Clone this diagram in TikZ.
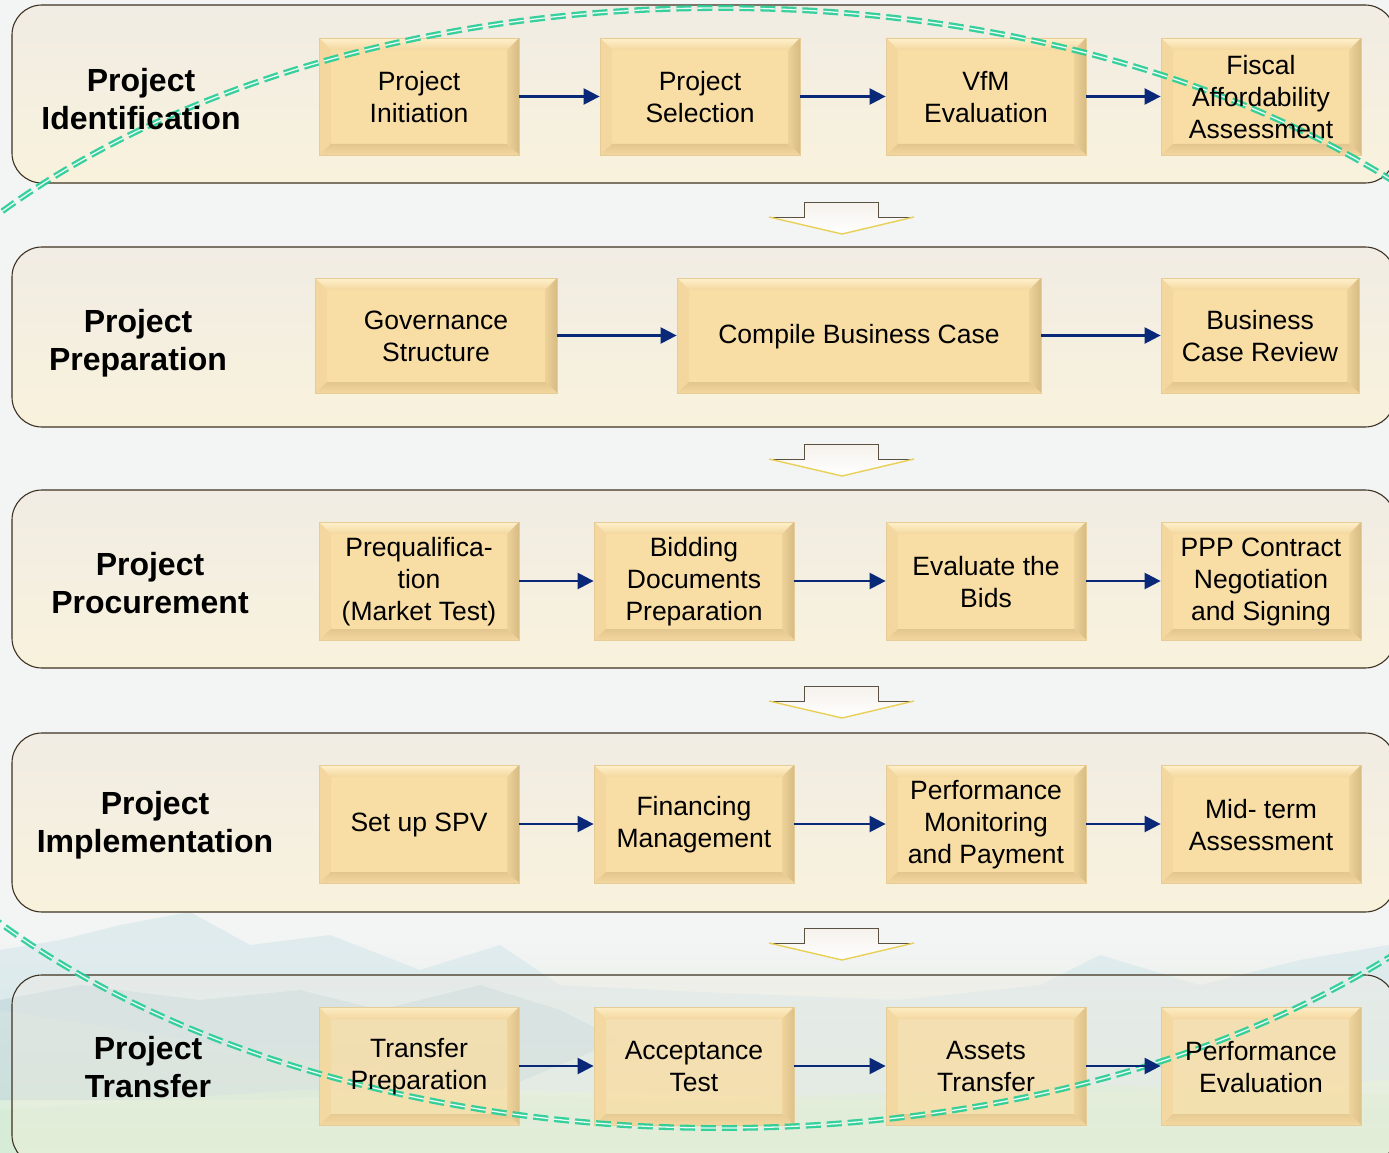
\documentclass[tikz,border=0pt]{standalone}
\usepackage{fontspec}
\setmainfont{Liberation Sans}
\usetikzlibrary{arrows.meta}
\definecolor{bgc}{HTML}{F3F4F4}
\definecolor{bandtop}{HTML}{F1ECE4}
\definecolor{bandbot}{HTML}{F8F2DC}
\definecolor{bandedge}{HTML}{3E3222}
\definecolor{boxface}{HTML}{F8DDA5}
\definecolor{bevlight}{HTML}{FFF1CC}
\definecolor{bevmid}{HTML}{F3D79E}
\definecolor{bevdark}{HTML}{D6BB84}
\definecolor{bevbot}{HTML}{E2C68F}
\definecolor{boxedge}{HTML}{E6CD97}
\definecolor{navy}{HTML}{0A2878}
\definecolor{dashgreen}{RGB}{35,205,150}
\definecolor{skyblue}{HTML}{D8E8EC}
\definecolor{hillblue}{HTML}{BCD4DA}
\definecolor{grass}{HTML}{D6ECD6}
\newcommand{\boxfont}{\fontsize{26.5}{32}\selectfont}
\newcommand{\titlefont}{\fontsize{32}{38}\selectfont\bfseries}
\tikzset{
  band/.style={draw=bandedge, line width=1.1pt, rounded corners=30pt,
    top color=bandtop, bottom color=bandbot, minimum width=1383pt, inner sep=0pt},
  phasetitle/.style={font=\titlefont, align=center, text=black},
  steplabel/.style={font=\boxfont, align=center, text=black, inner sep=0pt, yshift=-1pt},
  stepbox/.style={draw=boxedge, line width=0.8pt, fill=boxface,
    inner sep=0pt, minimum width=200pt, minimum height=117pt,
    path picture={
      \coordinate (pNW) at (path picture bounding box.north west);
      \coordinate (pNE) at (path picture bounding box.north east);
      \coordinate (pSW) at (path picture bounding box.south west);
      \coordinate (pSE) at (path picture bounding box.south east);
      \fill[top color=bevlight, bottom color=bevmid] (pNW) -- (pNE) -- ([shift={(-12pt,-12pt)}]pNE) -- ([shift={(12pt,-12pt)}]pNW) -- cycle;
      \fill[bevmid] (pNW) -- ([shift={(12pt,-12pt)}]pNW) -- ([shift={(12pt,11pt)}]pSW) -- (pSW) -- cycle;
      \fill[left color=bevmid!80!bevdark, right color=bevdark] (pNE) -- ([shift={(-12pt,-12pt)}]pNE) -- ([shift={(-12pt,11pt)}]pSE) -- (pSE) -- cycle;
      \fill[top color=bevbot, bottom color=bevmid] (pSW) -- ([shift={(12pt,11pt)}]pSW) -- ([shift={(-12pt,11pt)}]pSE) -- (pSE) -- cycle;
    }},
  laststep/.style={stepbox, fill opacity=0.8},
  flow/.style={draw=navy, line width=2.4pt, -{Triangle[length=16pt,width=16pt]}},
  blockarrow/.style={top color=bandtop!70!white, bottom color=white},
  blockedge/.style={draw=bandedge!85, line width=1pt},
  blockglow/.style={draw=yellow!55!brown!80, line width=1.4pt},
  orbit/.style={draw=dashgreen, double=white, double distance=1.3pt, line width=2.3pt,
    dash pattern=on 15pt off 6pt, opacity=0.9}
}
\begin{document}
\begin{tikzpicture}[x=1pt,y=-1pt]
\useasboundingbox (0,0) rectangle (1389,1153);
\clip (0,0) rectangle (1389,1153);
% background
\fill[bgc] (0,0) rectangle (1389,1153);
\fill[top color=bgc, bottom color=grass] (0,940) rectangle (1389,1153);
\fill[skyblue, opacity=0.7] (0,1010) -- (0,950) -- (60,940) -- (120,925) -- (190,912) -- (250,945) -- (330,935) -- (420,970) -- (500,945) -- (560,985) -- (700,992) -- (900,1000) -- (1040,985) -- (1100,955) -- (1200,985) -- (1300,960) -- (1389,945) -- (1389,1080) -- (900,1100) -- (500,1090) -- cycle;
\fill[hillblue, opacity=0.55] (0,1100) -- (0,1000) -- (80,985) -- (200,1000) -- (300,990) -- (380,1010) -- (480,985) -- (560,1010) -- (620,1040) -- (500,1090) -- (250,1100) -- cycle;
\fill[grass, opacity=0.7] (0,1110) -- (300,1090) -- (700,1100) -- (1100,1085) -- (1389,1095) -- (1389,1153) -- (0,1153) -- cycle;

% bands
\node[band, minimum height=178pt] (b1) at (703.5,94) {};
\node[band, minimum height=180pt] (b2) at (703.5,337) {};
\node[band, minimum height=178pt] (b3) at (703.5,579) {};
\node[band, minimum height=179pt] (b4) at (703.5,822.5) {};
\node[band, minimum height=190pt, fill opacity=0.38] (b5) at (703.5,1070) {};

% block arrows between bands
\foreach \t in {202,444,686,928} {
  \fill[blockarrow] (804,\t) -- (878,\t) -- (878,\t+15) -- (914,\t+15) -- (842,\t+32) -- (769,\t+15) -- (804,\t+15) -- cycle;
  \draw[blockedge] (769,\t+15) -- (804,\t+15) -- (804,\t) -- (878,\t) -- (878,\t+15) -- (914,\t+15);
  \draw[blockglow] (769,\t+15) -- (842,\t+32) -- (914,\t+15);
}

% boxes (shapes)
\node[stepbox] (a1) at (419,96.5) {};
\node[stepbox] (a2) at (700,96.5) {};
\node[stepbox] (a3) at (986,96.5) {};
\node[stepbox] (a4) at (1261,96.5) {};
\node[stepbox, minimum width=242pt, minimum height=115pt] (p1) at (436,335.5) {};
\node[stepbox, minimum width=364pt, minimum height=115pt] (p2) at (859,335.5) {};
\node[stepbox, minimum width=198pt, minimum height=115pt] (p3) at (1260,335.5) {};
\node[stepbox, minimum height=118pt] (c1) at (419,581) {};
\node[stepbox, minimum height=118pt] (c2) at (694,581) {};
\node[stepbox, minimum height=118pt] (c3) at (986,581) {};
\node[stepbox, minimum height=118pt] (c4) at (1261,581) {};
\node[stepbox, minimum height=118pt] (m1) at (419,824) {};
\node[stepbox, minimum height=118pt] (m2) at (694,824) {};
\node[stepbox, minimum height=118pt] (m3) at (986,824) {};
\node[stepbox, minimum height=118pt] (m4) at (1261,824) {};
\node[laststep, minimum height=118pt] (r1) at (419,1066) {};
\node[laststep, minimum height=118pt] (r2) at (694,1066) {};
\node[laststep, minimum height=118pt] (r3) at (986,1066) {};
\node[laststep, minimum height=118pt] (r4) at (1261,1066) {};

% dashed orbit (over the boxes, under texts and arrows)
\draw[orbit] (720,568) ellipse [x radius=931pt, y radius=560pt];

% titles
\node[phasetitle] (t1) at (141,99) {Project\\Identification};
\node[phasetitle] (t2) at (138,343) {Project\\Preparation};
\node[phasetitle] (t3) at (150,583) {Project\\Procurement};
\node[phasetitle] (t4) at (155,825) {Project\\Implementation};
\node[phasetitle] (t5) at (148,1067) {Project\\Transfer};

% box labels
\node[steplabel] (a1l) at (a1) {Project\\Initiation};
\node[steplabel] (a2l) at (a2) {Project\\Selection};
\node[steplabel] (a3l) at (a3) {VfM\\Evaluation};
\node[steplabel] (a4l) at (a4) {Fiscal\\Affordability\\Assessment};
\node[steplabel] (p1l) at (p1) {Governance\\Structure};
\node[steplabel] (p2l) at (p2) {Compile Business Case};
\node[steplabel] (p3l) at (p3) {Business\\Case Review};
\node[steplabel] (c1l) at (c1) {Prequalifica-\\tion\\(Market Test)};
\node[steplabel] (c2l) at (c2) {Bidding\\Documents\\Preparation};
\node[steplabel] (c3l) at (c3) {Evaluate the\\Bids};
\node[steplabel] (c4l) at (c4) {PPP Contract\\Negotiation\\and Signing};
\node[steplabel] (m1l) at (m1) {Set up SPV};
\node[steplabel] (m2l) at (m2) {Financing\\Management};
\node[steplabel] (m3l) at (m3) {Performance\\Monitoring\\and Payment};
\node[steplabel] (m4l) at (m4) {Mid- term\\Assessment};
\node[steplabel] (r1l) at (r1) {Transfer\\Preparation};
\node[steplabel] (r2l) at (r2) {Acceptance\\Test};
\node[steplabel] (r3l) at (r3) {Assets\\Transfer};
\node[steplabel] (r4l) at (r4) {Performance\\Evaluation};

% flows
\draw[flow] (a1) -- (a2);
\draw[flow] (a2) -- (a3);
\draw[flow] (a3) -- (a4);
\draw[flow] (p1) -- (p2);
\draw[flow] (p2) -- (p3);
\draw[flow] (c1) -- (c2);
\draw[flow] (c2) -- (c3);
\draw[flow] (c3) -- (c4);
\draw[flow] (m1) -- (m2);
\draw[flow] (m2) -- (m3);
\draw[flow] (m3) -- (m4);
\draw[flow] (r1) -- (r2);
\draw[flow] (r2) -- (r3);
\draw[flow] (r3) -- (r4);
\end{tikzpicture}
\end{document}
